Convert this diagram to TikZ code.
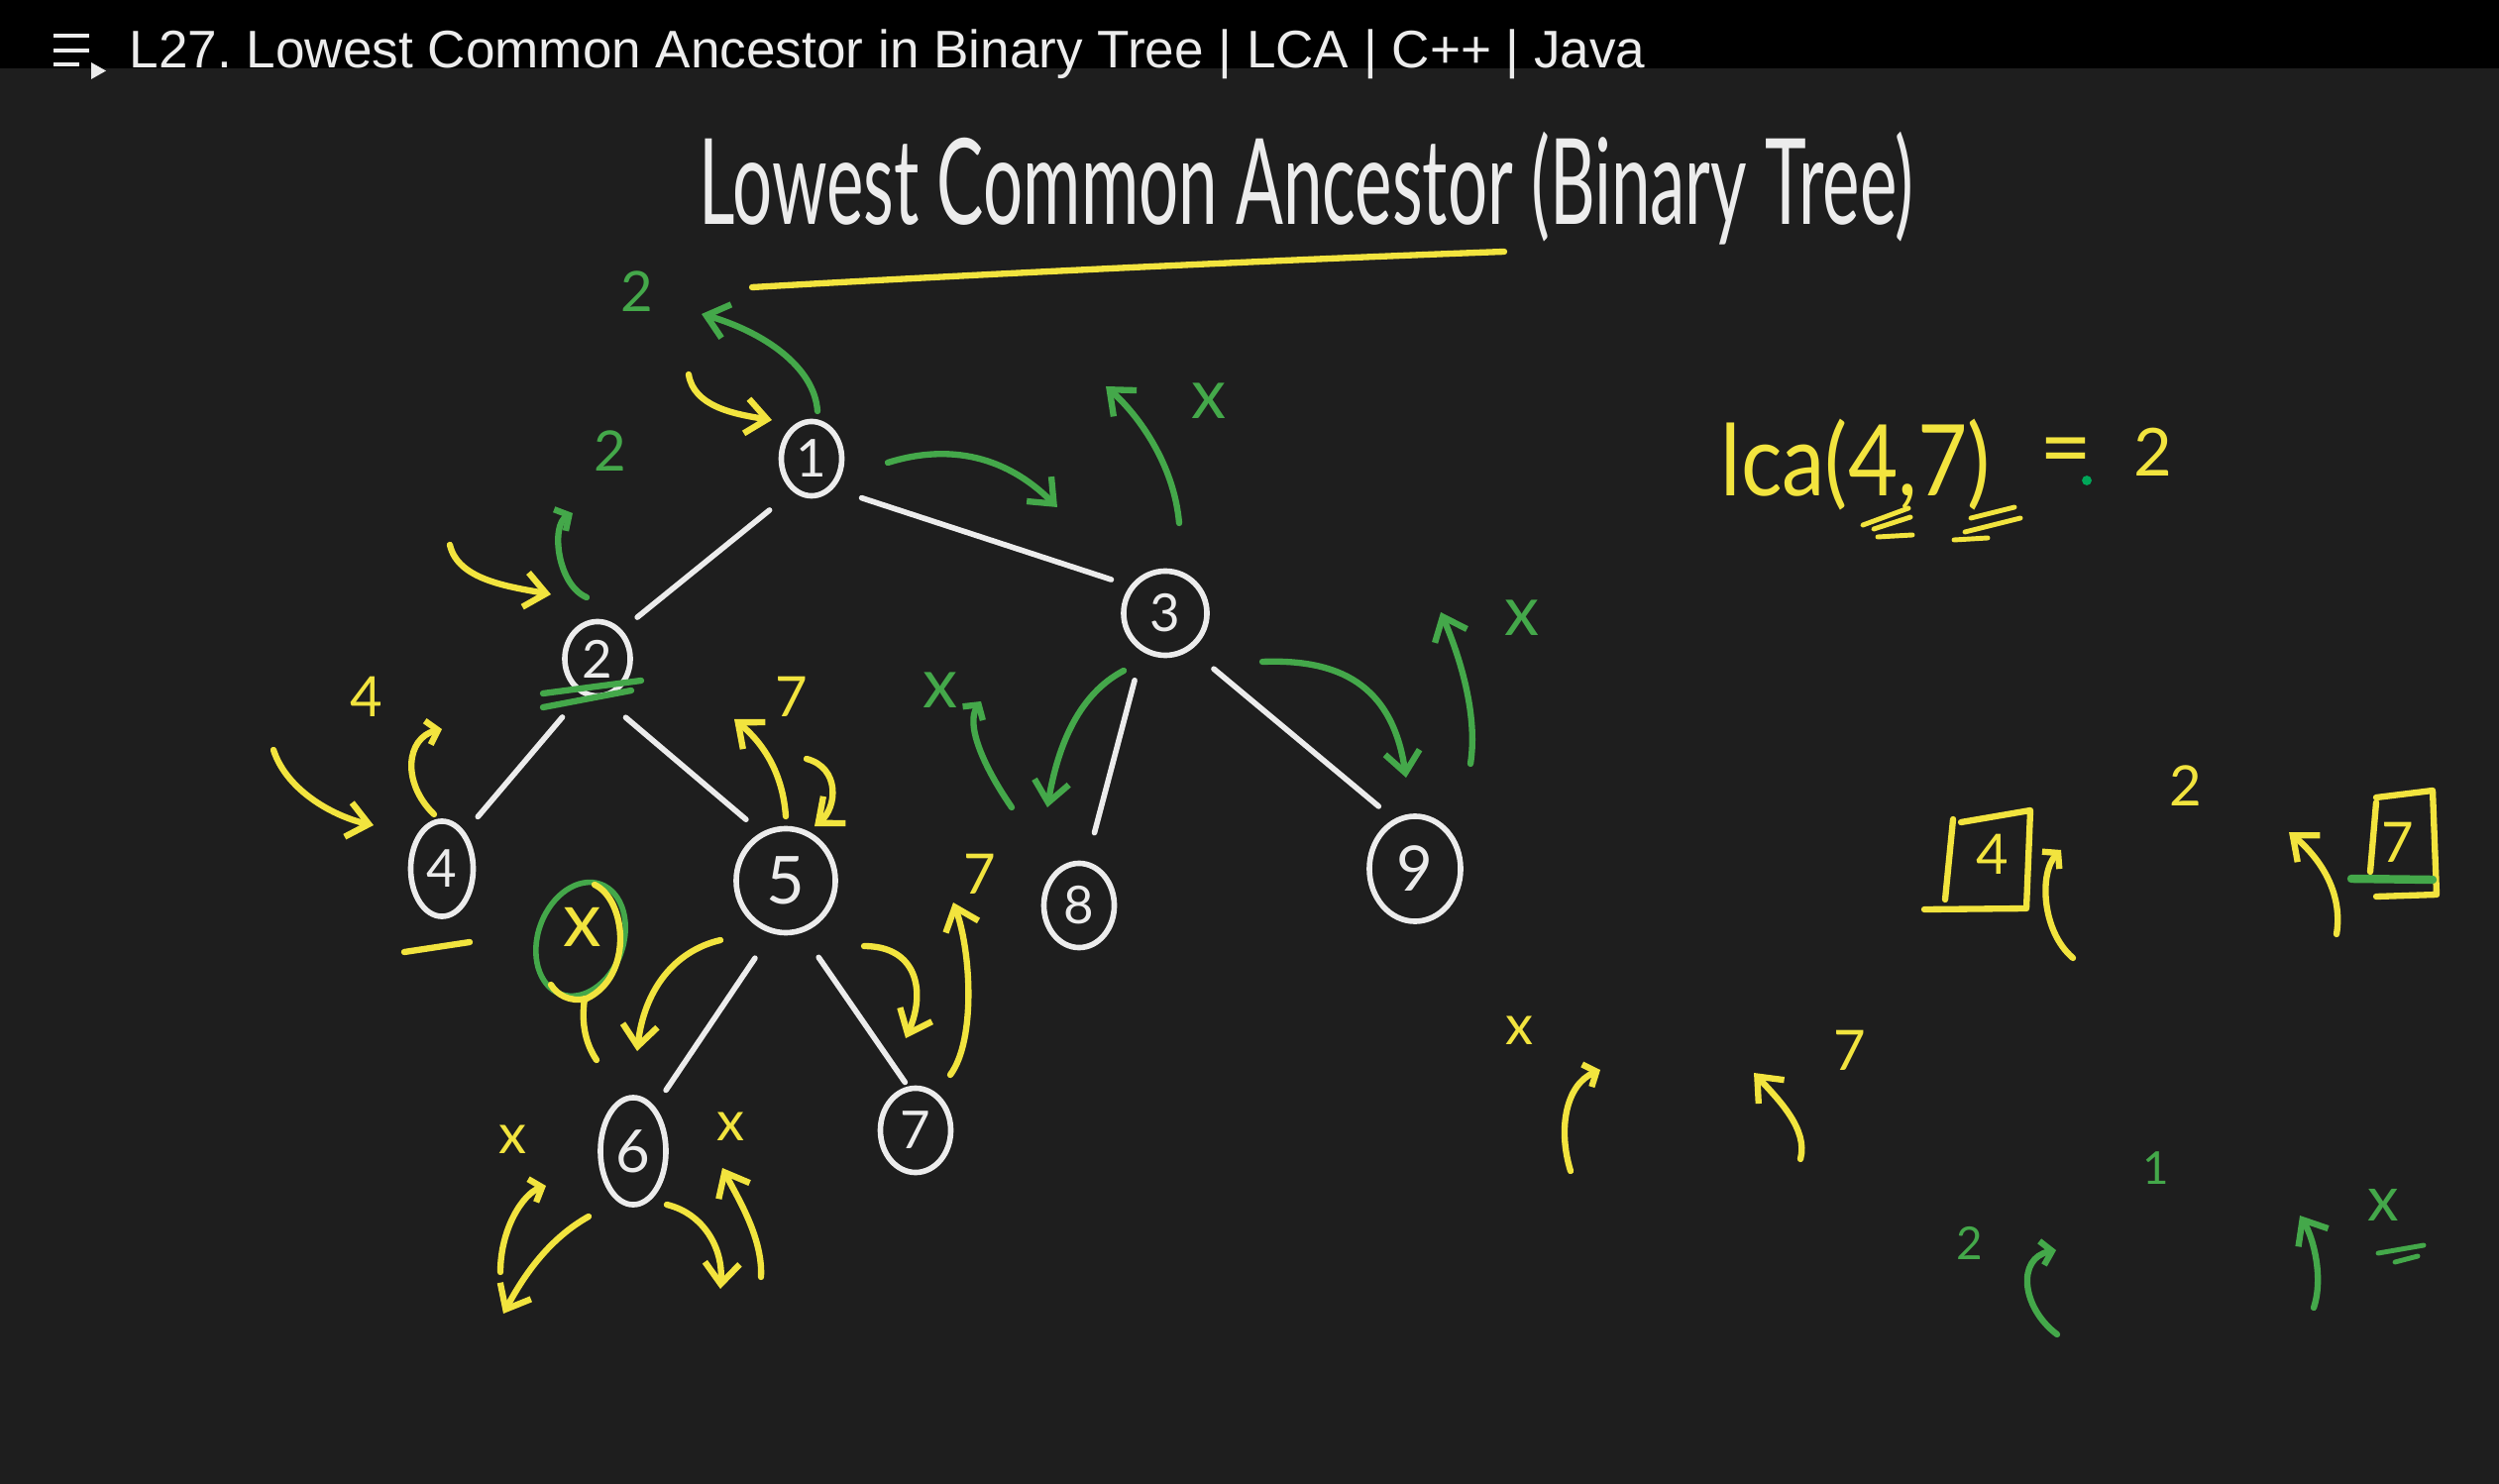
\documentclass[tikz,border=0pt]{standalone}
\usepackage{fontspec}
\usepackage{graphicx}
\setmainfont{Lato}
\newfontfamily\barfont{Liberation Sans}
\usetikzlibrary{arrows.meta,shapes.geometric}

\definecolor{board}{RGB}{30,30,30}
\definecolor{chalk}{RGB}{236,236,236}
\definecolor{hyellow}{RGB}{242,228,62}
\definecolor{hgreen}{RGB}{68,168,74}

\tikzset{
  ink/.style={line width=1.8pt, line cap=round, line join=round},
  yel/.style={ink, draw=hyellow},
  grn/.style={ink, draw=hgreen},
  arr/.style={-{Straight Barb[length=6pt,width=10pt]}},
  curly/.style={-{Straight Barb[length=3pt,width=7pt]}},
  vertex/.style={ellipse, draw=chalk, line width=1.6pt, text=chalk, inner sep=0pt,
    font=\fontsize{15}{15}\selectfont},
  branch/.style={draw=chalk, line width=1.6pt, line cap=round, shorten <=0.3cm, shorten >=0.2cm},
  glab/.style={text=hgreen, inner sep=0pt, font=\fontsize{16}{16}\selectfont},
  ylab/.style={text=hyellow, inner sep=0pt, font=\fontsize{16}{16}\selectfont},
}

\begin{document}
\begin{tikzpicture}[x=0.01cm, y=-0.01cm]

% board
\useasboundingbox (0,0) rectangle (2522,1498);
\fill[board] (0,0) rectangle (2522,1498);
\fill[black] (0,0) rectangle (2522,69);

% player bar
\draw[chalk, line width=1.4pt] (54,36) -- (90,36);
\draw[chalk, line width=1.4pt] (54,51) -- (90,51);
\draw[chalk, line width=1.4pt] (54,65) -- (80,65);
\fill[chalk] (92,63) -- (92,80) -- (107,71.5) -- cycle;
\node[anchor=west, inner sep=0pt, text=chalk] (bar) at (130,55)
  {\resizebox*{15.29cm}{0.50cm}{\barfont L27.\ Lowest Common Ancestor in Binary Tree | LCA | C++ | Java}};

% heading
\node[anchor=west, inner sep=0pt, text=chalk] (head) at (705,190)
  {\resizebox*{12.25cm}{1.14cm}{Lowest Common Ancestor (Binary Tree)}};
\draw[yel] (759,290) .. controls (1000,276) and (1300,262) .. (1518,254);

% tree
\node[vertex, minimum width=0.61cm, minimum height=0.75cm] (n1) at (819,463) {1};
\node[vertex, minimum width=0.66cm, minimum height=0.75cm] (n2) at (603,665) {2};
\node[vertex, minimum width=0.84cm, minimum height=0.85cm] (n3) at (1176,619) {3};
\node[vertex, minimum width=0.63cm, minimum height=0.96cm] (n4) at (446,877) {4};
\node[vertex, minimum width=1.00cm, minimum height=1.05cm, font=\fontsize{19}{19}\selectfont] (n5) at (793,889) {5};
\node[vertex, minimum width=0.71cm, minimum height=0.85cm] (n8) at (1089,914) {8};
\node[vertex, minimum width=0.92cm, minimum height=1.06cm, font=\fontsize{18}{18}\selectfont] (n9) at (1428,877) {9};
\node[vertex, minimum width=0.66cm, minimum height=1.08cm, font=\fontsize{17}{17}\selectfont] (n6) at (639,1162) {6};
\node[vertex, minimum width=0.71cm, minimum height=0.85cm] (n7) at (924,1141) {7};

\draw[branch] (n1.240) -- (n2.50);
\draw[branch] (n1.306) -- (n3.142);
\draw[branch] (n2.246) -- (n4.58);
\draw[branch] (n2.278) -- (n5.117);
\draw[branch, shorten >=0.3cm] (n3.239) -- (n8.80);
\draw[branch] (n3.305) -- (n9.113);
\draw[branch] (n5.255) -- (n6.64);
\draw[branch, shorten >=0.05cm] (n5.287) -- (n7.100);

% crossed null below 2
\node[ellipse, draw=hgreen, line width=1.6pt, minimum width=0.86cm, minimum height=1.18cm,
  rotate=-20, inner sep=0pt] (nx) at (586,948) {};
\node[ylab, font=\fontsize{22}{22}\selectfont] (nxl) at (588,936) {x};
\draw[yel] (600,893) .. controls (632,908) and (640,985) .. (592,1008) .. controls (575,1012) and (562,1004) .. (556,994);
\draw[yel] (590,1008) .. controls (586,1035) and (592,1055) .. (602,1070);

% green: root and left side
\node[glab] (g1) at (643,294) {2};
\draw[grn, arr] (825,415) .. controls (822,370) and (770,335) .. (708,317);
\node[glab] (g2) at (616,455) {2};
\draw[grn, curly] (592,603) .. controls (562,590) and (556,530) .. (578,518);
\draw[grn] (548,700) -- (647,687);
\draw[grn] (548,714) -- (637,697);

% green: right subtree
\draw[grn, arr] (896,467) .. controls (950,450) and (1010,455) .. (1067,512);
\draw[grn, arr] (1190,528) .. controls (1185,470) and (1150,420) .. (1116,390);
\node[glab, font=\fontsize{20}{20}\selectfont] (gx1) at (1220,405) {x};
\draw[grn, arr] (1134,677) .. controls (1090,700) and (1068,750) .. (1057,815);
\node[glab, font=\fontsize{20}{20}\selectfont] (gx2) at (949,697) {x};
\draw[grn, curly] (1021,815) .. controls (990,770) and (975,730) .. (990,708);
\draw[grn, arr] (1274,668) .. controls (1350,665) and (1405,690) .. (1419,785);
\draw[grn, arr] (1484,771) .. controls (1492,720) and (1472,660) .. (1454,618);
\node[glab, font=\fontsize{20}{20}\selectfont] (gx3) at (1536,624) {x};

% yellow: root, 2 and 4
\draw[yel, arr] (695,378) .. controls (700,410) and (740,418) .. (779,424);
\draw[yel, arr] (454,550) .. controls (462,585) and (512,592) .. (556,600);
\node[ylab] (y4) at (370,703) {4};
\draw[yel, arr] (276,757) .. controls (290,800) and (340,825) .. (377,833);
\draw[yel, curly] (438,822) .. controls (405,790) and (410,745) .. (446,736);
\draw[yel] (408,961) -- (474,951);

% yellow: 5 and 7
\node[ylab] (y7a) at (799,703) {7};
\draw[yel, arr] (793,824) .. controls (790,780) and (770,750) .. (741,726);
\draw[yel, arr] (814,766) .. controls (848,775) and (845,815) .. (822,834);
\draw[yel, arr] (727,949) .. controls (680,960) and (650,1000) .. (643,1061);
\draw[yel, arr] (872,955) .. controls (925,955) and (935,1000) .. (914,1048);
\draw[yel, arr] (959,1085) .. controls (985,1050) and (980,960) .. (962,911);
\node[ylab] (y7b) at (989,882) {7};

% yellow: 6
\node[ylab] (yx1) at (518,1150) {x};
\node[ylab] (yx2) at (737,1137) {x};
\draw[yel, curly] (505,1284) .. controls (505,1240) and (528,1205) .. (551,1197);
\draw[yel, arr] (594,1228) .. controls (555,1250) and (530,1285) .. (508,1326);
\draw[yel, arr] (673,1216) .. controls (710,1225) and (730,1260) .. (727,1301);
\draw[yel, arr] (768,1289) .. controls (770,1250) and (745,1210) .. (729,1179);

% lca(4,7) = 2
\node[anchor=west, inner sep=0pt, text=hyellow] (lca) at (1736,469)
  {\resizebox*{2.72cm}{0.92cm}{lca(4,7)}};
\node[ylab, font=\fontsize{26}{26}\selectfont] (leq) at (2085,463) {=};
\node[ylab, font=\fontsize{19}{19}\selectfont] (lres) at (2173,456) {2};
\fill[teal!70!green] (2106,485) circle (1.4pt);
\draw[yel, line width=1.4pt] (1880,530) -- (1926,513);
\draw[yel, line width=1.4pt] (1891,534) -- (1928,522);
\draw[yel, line width=1.4pt] (1895,542) -- (1930,540);
\draw[yel, line width=1.4pt] (1989,523) -- (2033,512);
\draw[yel, line width=1.4pt] (1983,537) -- (2039,523);
\draw[yel, line width=1.4pt] (1972,545) -- (2006,543);

% boxed 4 and 7
\draw[yel] (1971,827) -- (1963,908);
\draw[yel] (1979,830) -- (2049,818) -- (2045,917) -- (1942,918);
\node[ylab] (b4) at (2011,862) {4};
\draw[yel, curly] (2092,967) .. controls (2060,940) and (2058,880) .. (2080,858);
\node[ylab] (b2) at (2206,793) {2};
\draw[yel, arr] (2358,943) .. controls (2365,900) and (2340,865) .. (2310,840);
\draw[yel] (2398,810) -- (2392,880);
\draw[yel] (2398,805) -- (2455,798) -- (2459,903) -- (2398,905);
\node[ylab] (b7) at (2420,850) {7};
\draw[grn, line width=2.4pt] (2373,887) -- (2455,888);

% x and 7 in the middle
\node[ylab] (mx) at (1533,1040) {x};
\draw[yel, curly] (1585,1182) .. controls (1572,1140) and (1580,1095) .. (1615,1080);
\draw[yel, arr] (1817,1170) .. controls (1825,1140) and (1795,1110) .. (1770,1083);
\node[ylab] (m7) at (1867,1060) {7};

% green bottom right
\node[glab, font=\fontsize{13}{13}\selectfont] (r2) at (1988,1255) {2};
\draw[grn, curly] (2076,1347) .. controls (2040,1320) and (2035,1270) .. (2075,1262);
\node[glab, font=\fontsize{13}{13}\selectfont] (r1) at (2176,1179) {1};
\draw[grn, arr] (2335,1320) .. controls (2345,1290) and (2335,1250) .. (2321,1227);
\node[glab, font=\fontsize{18}{18}\selectfont] (rx) at (2405,1216) {x};
\draw[grn, line width=1.4pt] (2400,1265) -- (2446,1257);
\draw[grn, line width=1.4pt] (2417,1274) -- (2440,1268);

\end{tikzpicture}
\end{document}
